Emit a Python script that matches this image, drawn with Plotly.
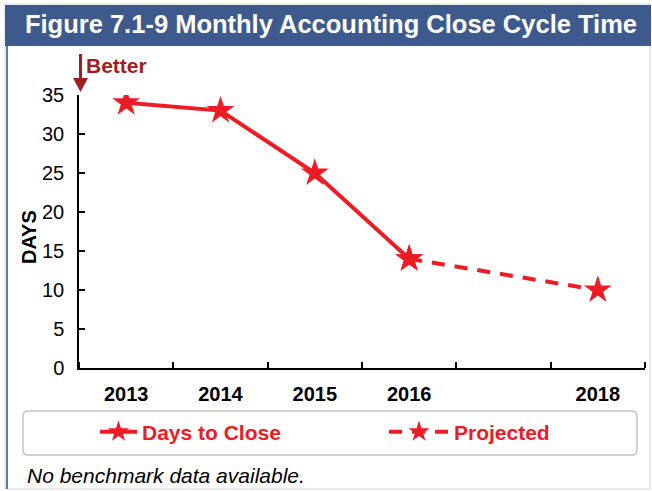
import plotly.graph_objects as go

# ---- data ----
years_actual = [2013, 2014, 2015, 2016]
days_actual = [34, 33, 25, 14]
years_proj = [2016, 2018]
days_proj = [14, 10]
tick_years = [2013, 2014, 2015, 2016, 2018]
tick_labels = ["2013", "2014", "2015", "2016", "2018"]

RED = "#ED1C24"
DARKRED = "#A21D22"
BLUE = "#3E5A8D"
FONT = "Liberation Sans, Arial, Helvetica, sans-serif"

W, H = 652, 491
L, R, T, B = 79, 7, 95, 123
PW, PH = W - L - R, H - T - B


def px(x):
    return (x - L) / PW


def py(y):
    return 1 - (y - T) / PH


fig = go.Figure()
fig.add_trace(go.Scatter(
    x=years_actual, y=days_actual, mode="lines+markers", name="Days to Close",
    line=dict(color=RED, width=4),
    marker=dict(symbol="star", size=21, color=RED),
    legend="legend",
))
fig.add_trace(go.Scatter(
    x=years_proj, y=days_proj, mode="lines+markers", name="Projected",
    line=dict(color=RED, width=4, dash="13px,10px"),
    marker=dict(symbol="star", size=21, color=RED),
    legend="legend2",
))

shapes = [
    # outer frame
    dict(type="rect", xref="paper", yref="paper", x0=px(5), x1=px(650), y0=py(489), y1=py(4),
         line=dict(color="#D0D4DC", width=1), layer="below"),
    # title bar
    dict(type="rect", xref="paper", yref="paper", x0=px(5), x1=px(651), y0=py(46), y1=py(5),
         line=dict(width=0), fillcolor=BLUE, layer="below"),
    # left blue border
    dict(type="line", xref="paper", yref="paper", x0=px(7), x1=px(7), y0=py(489), y1=py(46),
         line=dict(color="#5D78AB", width=2), layer="below"),
    # legend rounded box
    dict(type="path", xref="paper", yref="paper",
         path=(f"M {px(28)},{py(411)} L {px(632)},{py(411)} Q {px(637)},{py(411)} {px(637)},{py(416)} "
               f"L {px(637)},{py(450)} Q {px(637)},{py(455)} {px(632)},{py(455)} "
               f"L {px(28)},{py(455)} Q {px(23)},{py(455)} {px(23)},{py(450)} "
               f"L {px(23)},{py(416)} Q {px(23)},{py(411)} {px(28)},{py(411)} Z"),
         line=dict(color="#C4C4C4", width=1.5), layer="below"),
    # better arrow shaft
    dict(type="line", xref="paper", yref="paper", x0=px(80.5), x1=px(80.5), y0=py(54), y1=py(80),
         line=dict(color=DARKRED, width=3)),
    # better arrow head
    dict(type="path", xref="paper", yref="paper",
         path=f"M {px(73)},{py(78)} L {px(88)},{py(78)} L {px(80.5)},{py(92)} Z",
         fillcolor=DARKRED, line=dict(width=0)),
]

annotations = [
    dict(text="<b>Better</b>", xref="paper", yref="paper", x=px(84), y=py(66),
         xanchor="left", yanchor="middle", showarrow=False,
         font=dict(family=FONT, size=21, color=DARKRED)),
    dict(text="<b>DAYS</b>", xref="paper", yref="paper", x=px(29), y=py(237),
         xanchor="center", yanchor="middle", showarrow=False, textangle=-90,
         font=dict(family=FONT, size=20, color="black")),
    dict(text="<i>No benchmark data available.</i>", xref="paper", yref="paper", x=px(25), y=py(475),
         xanchor="left", yanchor="middle", showarrow=False,
         font=dict(family=FONT, size=21, color="black")),
]

leg_common = dict(orientation="h", yanchor="middle", y=py(432), xanchor="left",
                  bgcolor="rgba(0,0,0,0)",
                  font=dict(family=FONT, size=21, color=RED, weight="bold"))

fig.update_layout(
    width=W, height=H,
    margin=dict(l=L, r=R, t=T, b=B, autoexpand=False),
    paper_bgcolor="white", plot_bgcolor="white",
    font=dict(family=FONT, color="black"),
    title=dict(text="<b>Figure 7.1-9 Monthly Accounting Close Cycle Time</b>",
               x=331 / W, xref="container", xanchor="center",
               y=1 - 24 / H, yref="container", yanchor="middle",
               font=dict(family=FONT, size=25.5, color="white")),
    showlegend=True,
    legend=dict(x=px(95), itemwidth=37, **leg_common),
    legend2=dict(x=px(384), itemwidth=60, **leg_common),
    shapes=shapes,
    annotations=annotations,
    xaxis=dict(range=[2012.5, 2018.5], tickmode="array", tickvals=tick_years,
               ticktext=[f"<b>{t}</b>" for t in tick_labels], automargin=False,
               ticks="", showline=True, linecolor="black", linewidth=1.5, showgrid=False, zeroline=False,
               tickfont=dict(family=FONT, size=20, color="black"), ticklabelstandoff=7,
               minor=dict(tickmode="linear", tick0=2012.5, dtick=1, ticks="inside", ticklen=6,
                          tickcolor="black", tickwidth=1.5, showgrid=False)),
    yaxis=dict(range=[0, 35], dtick=5, tick0=0, ticks="inside", ticklen=6, tickwidth=1.5, tickcolor="black",
               showline=True, linecolor="black", linewidth=1.5, showgrid=False, zeroline=False,
               automargin=False,
               tickfont=dict(family=FONT, size=20, color="black"), ticklabelstandoff=9),
)

fig.write_html("out.html", config={"displayModeBar": False},
               post_script="document.body.style.margin='0';document.body.style.overflow='hidden';")
